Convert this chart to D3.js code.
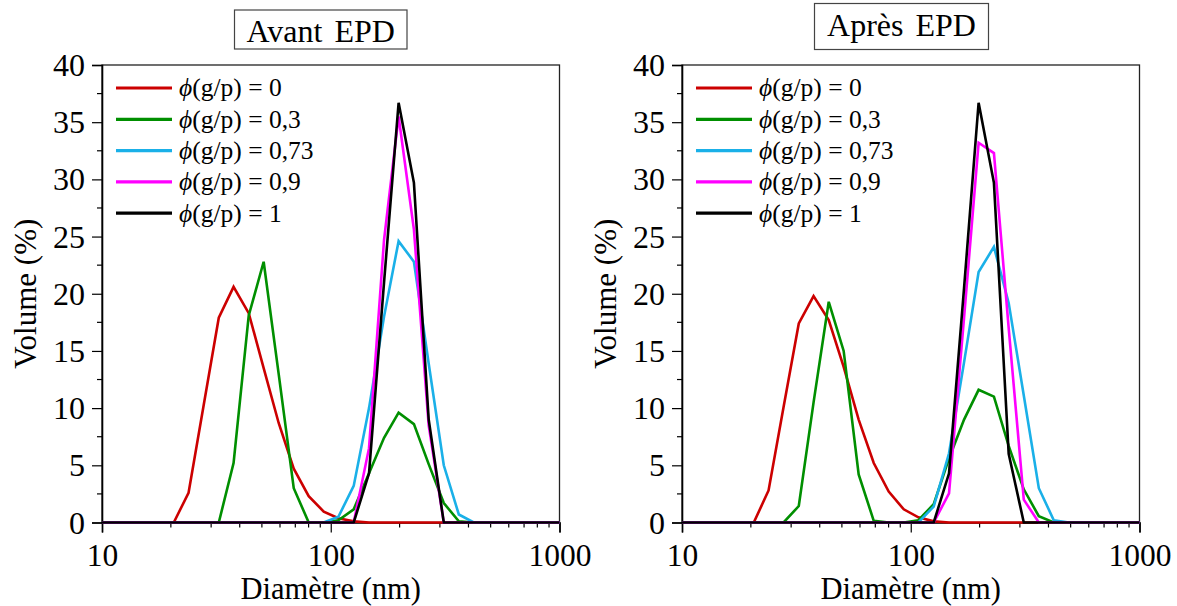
<!DOCTYPE html>
<html><head><meta charset="utf-8">
<script src="https://cdn.jsdelivr.net/npm/d3@7"></script>
<style>
body{margin:0;background:#fff}
svg{display:block}
text{font-family:"Liberation Serif","Tinos","Times New Roman","Nimbus Roman","DejaVu Serif",serif;fill:#000}
</style>
</head><body>
<svg id="chart" width="1177" height="606"></svg>
<script>
// ---- data ----
const diameters = [10, 11.3, 13.1, 15.2, 17.7, 20.6, 23.9, 27.8, 32.4, 37.6, 43.8, 50.9, 59.2, 68.9, 80.1, 93.2,
                   108, 126, 147, 171, 198, 231, 268, 312, 363, 422, 491, 571, 664, 772, 898, 1000];

const seriesNames = ["0", "0,3", "0,73", "0,9", "1"];
const seriesColors = ["#cc0000", "#008f00", "#1ab0e8", "#ff00ff", "#000000"];

// Avant EPD
const avant_phi0   = [0,0,0,0,0,0, 2.6,10.2,17.9,20.6,18.3,13.5, 8.7, 4.7, 2.3,0.95,0.37,0.1,0,0,0,0,0,0,0,0,0,0,0,0,0,0];
const avant_phi03  = [0,0,0,0,0,0,0,0,0, 5.2,18.1,22.8,13.0, 3.0,0,0, 0.2,1.15, 4.3, 7.4, 9.6, 8.6, 5.1, 1.7,0.1,0,0,0,0,0,0,0];
const avant_phi073 = [0,0,0,0,0,0,0,0,0,0,0,0,0,0,0,0, 0.5, 3.2,10.0,18.0,24.6,22.8,13.9, 5.0, 0.7,0,0,0,0,0,0,0];
const avant_phi09  = [0,0,0,0,0,0,0,0,0,0,0,0,0,0,0,0,0,0, 6.5,24.7,35.5,25.6, 8.5,0,0,0,0,0,0,0,0,0];
const avant_phi1   = [0,0,0,0,0,0,0,0,0,0,0,0,0,0,0,0,0,0, 4.3,21.0,36.7,29.7, 9.0,0,0,0,0,0,0,0,0,0];

// Après EPD
const apres_phi0   = [0,0,0,0,0,0, 2.8,10.1,17.4,19.8,17.7,13.6, 9.0, 5.2, 2.7,1.15,0.45,0.1,0,0,0,0,0,0,0,0,0,0,0,0,0,0];
const apres_phi03  = [0,0,0,0,0,0,0,0, 1.44,10.5,19.3,15.0, 4.2, 0.15,0,0, 0.2, 1.6, 5.6, 9.0,11.6,11.0, 6.7, 2.9,0.55,0,0,0,0,0,0,0];
const apres_phi073 = [0,0,0,0,0,0,0,0,0,0,0,0,0,0,0,0,0, 1.4, 6.05,14.0,21.9,24.1,19.2,11.1, 3.0, 0.2,0,0,0,0,0,0];
const apres_phi09  = [0,0,0,0,0,0,0,0,0,0,0,0,0,0,0,0,0,0, 2.55,17.9,33.2,32.3,17.0, 2.0,0,0,0,0,0,0,0,0];
const apres_phi1   = [0,0,0,0,0,0,0,0,0,0,0,0,0,0,0,0,0,0, 4.3,20.5,36.7,29.7, 6.0,0,0,0,0,0,0,0,0,0];

const panelTitles = ["Avant EPD", "Après EPD"];
const yTickValues = [0, 5, 10, 15, 20, 25, 30, 35, 40];
const yMinorValues = [2.5, 7.5, 12.5, 17.5, 22.5, 27.5, 32.5, 37.5];
const xTickValues = [10, 100, 1000];
const xTickLabels = ["10", "100", "1000"];
const xMinorValues = [20,30,40,50,60,70,80,90,200,300,400,500,600,700,800,900];
const xAxisTitle = "Diamètre (nm)";
const yAxisTitle = "Volume (%)";

// ---- layout ----
const FONT = '"Liberation Serif","Tinos","Times New Roman","Nimbus Roman","DejaVu Serif",serif';
const svg = d3.select("#chart");
const panels = [
  {x0: 102, x1: 559.5, box: {x: 234.5, y: 10, w: 172.5, h: 39}, titleY: 42,
   data: [avant_phi0, avant_phi03, avant_phi073, avant_phi09, avant_phi1]},
  {x0: 682, x1: 1139.5, box: {x: 814.5, y: 3.5, w: 174, h: 46}, titleY: 35.5,
   data: [apres_phi0, apres_phi03, apres_phi073, apres_phi09, apres_phi1]}
];
const yTop = 65, yBottom = 522.5;

panels.forEach((p, pi) => {
  const x = d3.scaleLog().domain([10, 1000]).range([p.x0, p.x1]);
  const y = d3.scaleLinear().domain([0, 40]).range([yBottom, yTop]);
  const g = svg.append("g");

  g.append("rect").attr("x", p.x0).attr("y", yTop).attr("width", p.x1 - p.x0).attr("height", yBottom - yTop)
    .attr("fill", "none").attr("stroke", "#222").attr("stroke-width", 1.3);

  const ya = g.append("g").attr("transform", `translate(${p.x0},0)`)
    .call(d3.axisLeft(y).tickValues(yTickValues).tickSize(10).tickPadding(7).tickFormat(d3.format("d")));
  ya.append("g").selectAll("line").data(yMinorValues).join("line")
    .attr("x1", 0).attr("x2", -5).attr("y1", d => y(d)).attr("y2", d => y(d)).attr("stroke", "#000");
  const xa = g.append("g").attr("transform", `translate(0,${yBottom})`)
    .call(d3.axisBottom(x).tickValues(xTickValues).tickSize(10).tickPadding(12).tickFormat((d, i) => xTickLabels[i]));
  xa.append("g").selectAll("line").data(xMinorValues).join("line")
    .attr("x1", d => x(d)).attr("x2", d => x(d)).attr("y1", 0).attr("y2", 5).attr("stroke", "#000");

  [ya, xa].forEach(a => {
    a.attr("font-family", null).attr("font-size", null);
    a.select(".domain").attr("stroke", "#000").attr("stroke-width", 1.6);
    a.selectAll("line").attr("stroke", "#000").attr("stroke-width", 1.2);
    a.selectAll("text").style("font-family", FONT).style("font-size", "32px").attr("fill", "#000");
  });
  ya.selectAll(".tick text").attr("dy", "0.33em");
  xa.selectAll(".tick text").style("font-size", "31.5px").attr("dy", "0.68em");

  const line = d3.line().x((d, i) => x(diameters[i])).y(d => y(d));
  p.data.forEach((arr, si) => {
    g.append("path").datum(arr).attr("d", line).attr("fill", "none")
      .attr("stroke", seriesColors[si]).attr("stroke-width", 2.6).attr("stroke-linejoin", "miter");
  });

  const lg = g.append("g");
  seriesNames.forEach((nm, si) => {
    const ly = 88 + si * 31.3;
    lg.append("line").attr("x1", p.x0 + 14).attr("x2", p.x0 + 70).attr("y1", ly).attr("y2", ly)
      .attr("stroke", seriesColors[si]).attr("stroke-width", 3.2);
    const t = lg.append("text").attr("x", p.x0 + 77).attr("y", ly).attr("dy", "0.33em")
      .style("font-family", FONT).style("font-size", "25.5px");
    t.append("tspan").style("font-style", "italic").text("ϕ");
    t.append("tspan").text(`(g/p) = ${nm}`);
  });

  g.append("text").attr("x", (p.x0 + p.x1) / 2).attr("y", 598.5).attr("text-anchor", "middle")
    .style("font-family", FONT).style("font-size", "30.5px").text(xAxisTitle);
  g.append("text").attr("transform", `translate(${p.x0 - 66},${(yTop + yBottom) / 2}) rotate(-90)`)
    .attr("text-anchor", "middle").style("font-family", FONT).style("font-size", "31px").text(yAxisTitle);

  g.append("rect").attr("x", p.box.x).attr("y", p.box.y).attr("width", p.box.w).attr("height", p.box.h)
    .attr("fill", "#fff").attr("stroke", "#444").attr("stroke-width", 1.2);
  g.append("text").attr("x", p.box.x + p.box.w / 2).attr("y", p.titleY).attr("text-anchor", "middle")
    .style("font-family", FONT).style("font-size", "32px").style("word-spacing", "4px").text(panelTitles[pi]);
});
</script>
</body></html>
